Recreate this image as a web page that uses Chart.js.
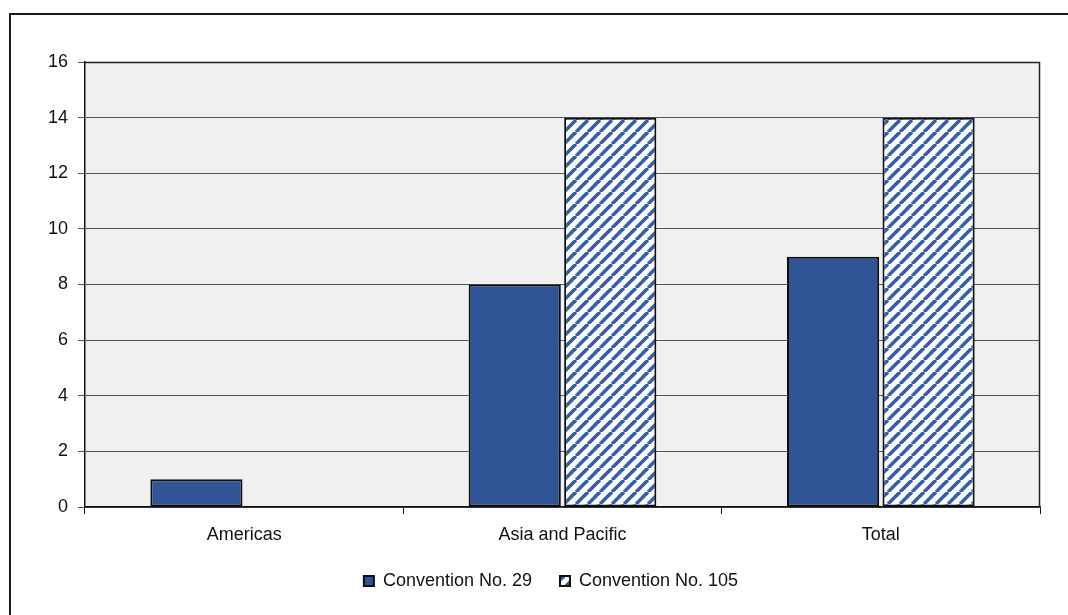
<!DOCTYPE html>
<html>
<head>
<meta charset="utf-8">
<script src="https://cdn.jsdelivr.net/npm/chart.js@4/dist/chart.umd.min.js"></script>
<style>
  html, body { margin: 0; padding: 0; background: #ffffff; }
  #wrap { width: 1068px; height: 615px; }
</style>
</head>
<body>
<div id="wrap"><canvas id="chart" width="1068" height="615"></canvas></div>
<script>
// Ratifications by region
const categories = ['Americas', 'Asia and Pacific', 'Total'];
const seriesNames = ['Convention No. 29', 'Convention No. 105'];
const convention29 = [1, 8, 9];
const convention105 = [null, 14, 14];
const yTicks = [0, 2, 4, 6, 8, 10, 12, 14, 16];

const BLUE = '#2F5597';
const FONT = "'Liberation Sans', Arial, sans-serif";

// Diagonal hatch fill for the second series
function makeHatch() {
  const p = 12;
  const c = document.createElement('canvas');
  c.width = p; c.height = p;
  const g = c.getContext('2d');
  g.fillStyle = '#ffffff';
  g.fillRect(0, 0, p, p);
  g.strokeStyle = '#3560A3';
  g.lineWidth = 3.6;
  for (let k = -1; k <= 1; k++) {
    g.beginPath();
    g.moveTo(k * p, p);
    g.lineTo(k * p + p, 0);
    g.stroke();
  }
  return g.createPattern(c, 'repeat');
}
const hatch = makeHatch();

// Plot background, plot frame and outer frame; legend centred under the plot
const framePlugin = {
  id: 'frames',
  afterLayout(chart) {
    const lg = chart.legend;
    if (lg) {
      const shift = 31;
      lg.left += shift;
      lg.right += shift;
    }
  },
  beforeDraw(chart) {
    const { ctx, chartArea: a } = chart;
    ctx.save();
    ctx.fillStyle = '#F0F0F0';
    ctx.fillRect(a.left, a.top, a.right - a.left, a.bottom - a.top);
    ctx.strokeStyle = '#1a1a1a';
    ctx.lineWidth = 2;
    ctx.strokeRect(10, 14, 1200, 800);
    ctx.restore();
  },
  afterDatasetsDraw(chart) {
    const { ctx, chartArea: a } = chart;
    ctx.save();
    ctx.strokeStyle = '#222222';
    ctx.lineWidth = 1.5;
    ctx.beginPath();
    ctx.moveTo(a.left, a.top + 0.5);
    ctx.lineTo(a.right - 0.5, a.top + 0.5);
    ctx.lineTo(a.right - 0.5, a.bottom);
    ctx.stroke();
    ctx.restore();
  }
};

new Chart(document.getElementById('chart'), {
  type: 'bar',
  data: {
    labels: categories,
    datasets: [
      {
        label: seriesNames[0],
        data: convention29,
        backgroundColor: BLUE,
        borderColor: '#0d0d0d',
        borderWidth: 2,
        borderSkipped: false,
        categoryPercentage: 0.6,
        barPercentage: 0.965
      },
      {
        label: seriesNames[1],
        data: convention105,
        backgroundColor: hatch,
        borderColor: '#0d0d0d',
        borderWidth: 2,
        borderSkipped: false,
        categoryPercentage: 0.6,
        barPercentage: 0.965
      }
    ]
  },
  options: {
    responsive: false,
    animation: false,
    devicePixelRatio: 1,
    layout: { padding: { left: 0, top: 62, right: 28, bottom: 15 } },
    plugins: {
      tooltip: { enabled: false },
      legend: {
        position: 'bottom',
        labels: {
          boxWidth: 10,
          boxHeight: 10,
          padding: 28,
          color: '#111111',
          font: { family: FONT, size: 18 }
        }
      }
    },
    scales: {
      x: {
        grid: {
          display: true,
          drawOnChartArea: false,
          drawTicks: true,
          tickLength: 7,
          color: '#111111',
          offset: true
        },
        border: { display: true, color: '#111111', width: 1.5 },
        ticks: {
          color: '#111111',
          padding: 10,
          font: { family: FONT, size: 18 }
        },
        afterFit(scale) { scale.height = 37; }
      },
      y: {
        min: 0,
        max: 16,
        afterBuildTicks(scale) { scale.ticks = yTicks.map(v => ({ value: v })); },
        grid: {
          color: '#555555',
          lineWidth: 1,
          drawTicks: true,
          tickLength: 7
        },
        border: { display: true, color: '#111111', width: 1.5 },
        ticks: {
          color: '#111111',
          padding: 10,
          font: { family: FONT, size: 18 }
        },
        afterFit(scale) { scale.width = 85; }
      }
    }
  },
  plugins: [framePlugin]
});
</script>
</body>
</html>
